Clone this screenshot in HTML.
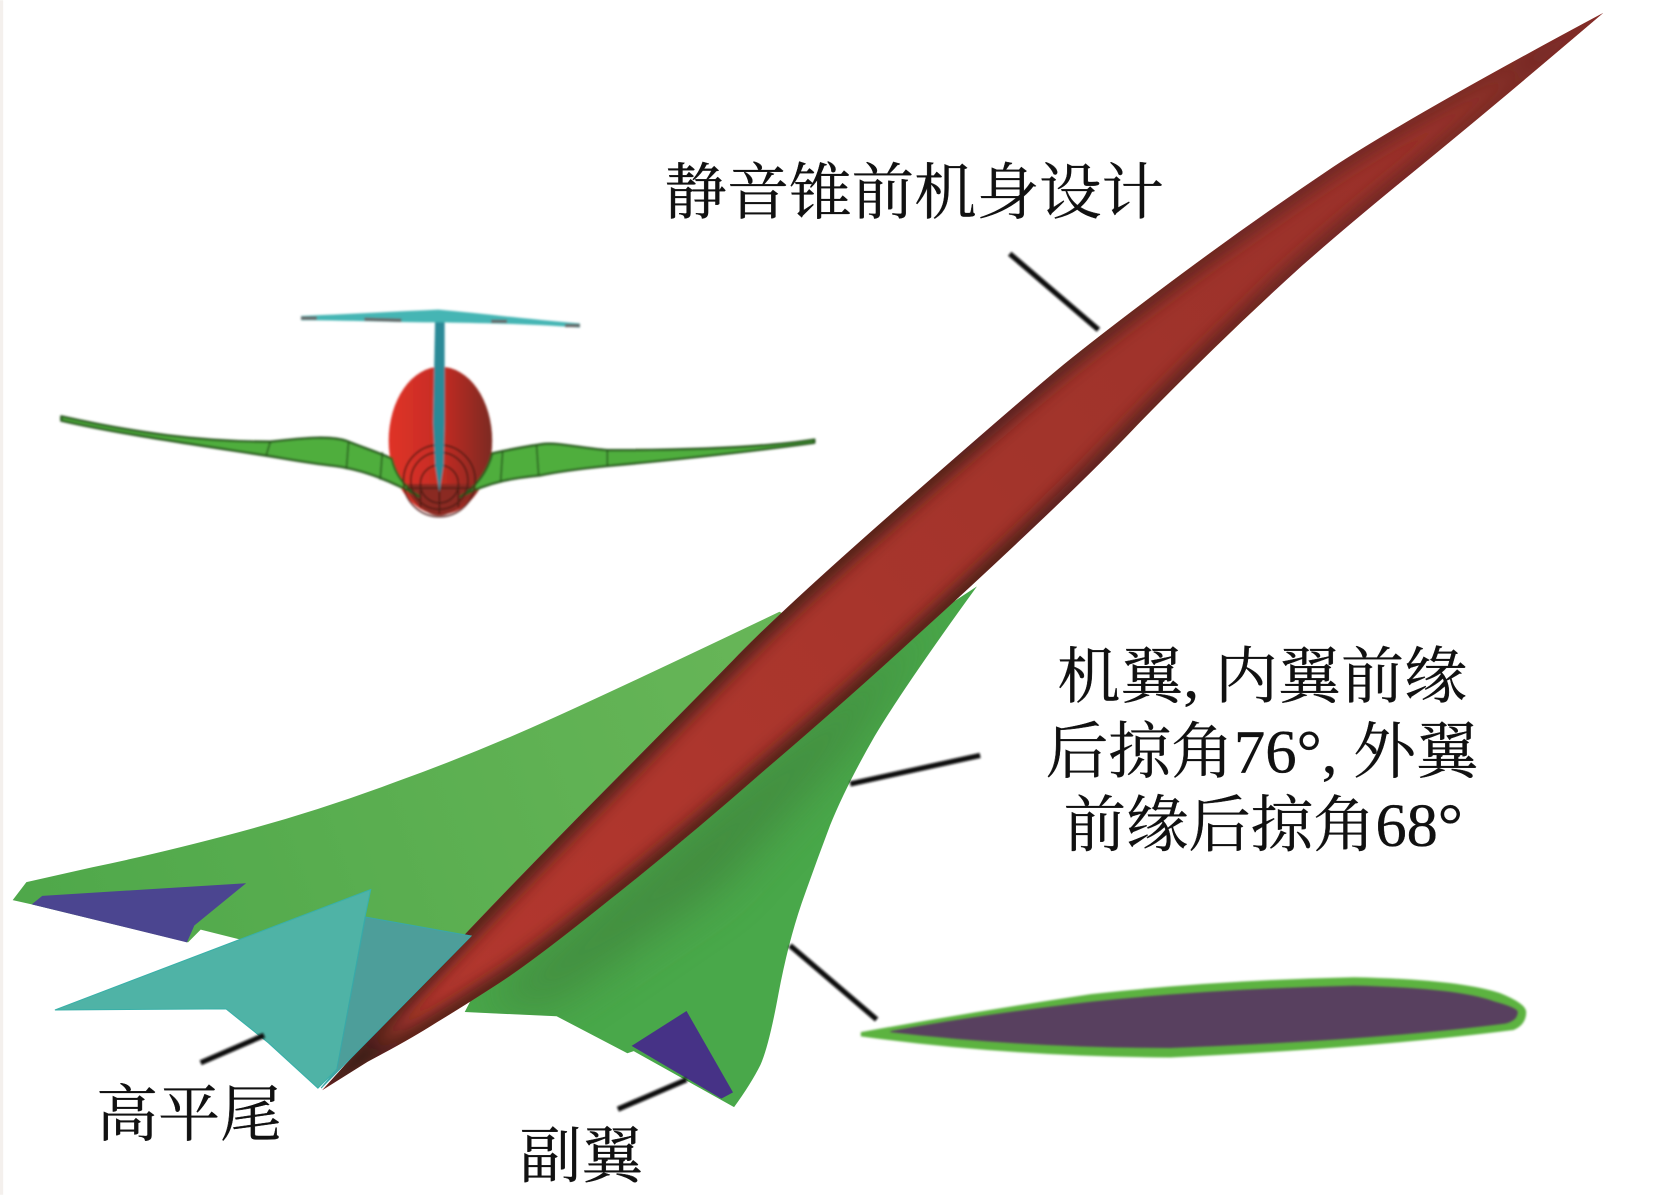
<!DOCTYPE html>
<html lang="zh">
<head>
<meta charset="utf-8">
<title>静音锥前机身设计</title>
<style>
html,body{margin:0;padding:0;background:#fff;width:1654px;height:1195px;overflow:hidden}
svg{display:block}
text{font-family:"Liberation Serif","Noto Serif CJK SC",serif;font-size:58px;fill:#111;stroke:#111;stroke-width:.35}
</style>
</head>
<body>
<svg width="1654" height="1195" viewBox="0 0 1566 1131" xmlns="http://www.w3.org/2000/svg">
<defs>
<filter id="b1" x="-5%" y="-5%" width="110%" height="110%"><feGaussianBlur stdDeviation="1"/></filter>
<filter id="b6" x="-10%" y="-10%" width="120%" height="120%"><feGaussianBlur stdDeviation="8"/></filter>
<filter id="b25" x="-30%" y="-30%" width="160%" height="160%"><feGaussianBlur stdDeviation="22"/></filter>
<linearGradient id="bodyG" gradientUnits="userSpaceOnUse" x1="1518" y1="12" x2="305" y2="1032">
<stop offset="0" stop-color="#96302a"/><stop offset=".45" stop-color="#a3342b"/><stop offset=".7" stop-color="#ad362d"/><stop offset="1" stop-color="#b5372e"/>
</linearGradient>
<linearGradient id="edgeG" gradientUnits="userSpaceOnUse" x1="1518" y1="12" x2="305" y2="1032">
<stop offset="0" stop-color="#7e2c26"/><stop offset=".25" stop-color="#5f2520"/><stop offset=".5" stop-color="#3a1c18"/><stop offset="1" stop-color="#3a1c18"/>
</linearGradient>
<linearGradient id="wingU" gradientUnits="userSpaceOnUse" x1="20" y1="850" x2="700" y2="620">
<stop offset="0" stop-color="#4fa84a"/><stop offset="1" stop-color="#66b557"/>
</linearGradient>
<linearGradient id="front" x1="0" x2="1" y1="0" y2="0">
<stop offset="0" stop-color="#e03227"/><stop offset=".5" stop-color="#c52d24"/><stop offset="1" stop-color="#7c2a20"/>
</linearGradient>
<path id="body" d="M1518 12Q1335 110 1262 158Q1189 207 1119 259Q1049 311 1007 345Q966 379 852 479Q738 579 694 625Q650 670 543 778Q437 886 371 959L305 1032 348 1005Q388 984 413 968Q438 953 472 931Q506 909 578 851Q650 794 725 728Q801 663 862 607Q924 551 983 495Q1042 439 1076 403Q1110 368 1150 329Q1190 290 1232 252Q1274 215 1329 170Q1384 125 1421 94Q1458 63 1518 12Z"/>
<clipPath id="bodyClip"><use href="#body"/></clipPath>
<clipPath id="wing2"><path d="M925 555Q856 650 828 697Q801 744 786 781Q772 818 759 855Q746 893 737 941Q728 990 720 1008Q711 1026 695 1048L600 995 594 997 527 962 440 958 470 900 780 650Z"/></clipPath>
</defs>

<rect x="0" y="0" width="3" height="1131" fill="#f4f0ed"/>

<!-- front view -->
<g filter="url(#b1)">
<ellipse cx="417" cy="417" rx="49" ry="70" fill="url(#front)"/>
<path d="M381 458C392 478 405 488 416 488 428 488 445 474 452 458Z" fill="#8b2a20"/>
<path d="M58 394C130 410 190 418 256 418 290 414 315 412 330 418 345 424 358 428 371 434 374 448 382 460 397 470 365 452 340 444 317 441 290 438 270 434 251 431 180 420 110 410 58 398Z" fill="#4fae3c" stroke="#27591f" stroke-width="2.2" stroke-linejoin="round"/>
<path d="M771 416C720 424 650 426 575 426 550 424 530 419 516 420 500 422 480 426 466 429 462 445 452 460 436 470 465 455 490 452 511 450 530 446 555 443 575 441 650 434 720 426 771 419Z" fill="#4fae3c" stroke="#27591f" stroke-width="2.2" stroke-linejoin="round"/>
<path d="M256 418L252 431M330 418L328 444M362 428L360 454M508 421L510 450M476 426L474 456M575 426L575 441" stroke="#27591f" stroke-width="1.5" fill="none"/>
<g fill="none" stroke="#4a1a14" stroke-width="1.6" opacity=".85">
<circle cx="416" cy="455" r="34"/><circle cx="416" cy="455" r="27"/><circle cx="416" cy="458" r="18"/>
<path d="M385 462H448M416 440V486M398 458V480M434 458V480"/>
</g>
<path d="M412 300L410 400 412 440 416 466 420 440 421 400 421 300Z" fill="#2a8a97"/>
<path d="M285 299C330 297 370 295 415 293 450 296 500 302 549 306L549 310C500 306 460 306 420 305 370 305 330 303 285 303Z" fill="#45b5b4"/>
<path d="M285 301L300 301M345 302L380 303M465 304L480 304M535 308L549 308" stroke="#666" stroke-width="3"/>
</g>

<!-- upper wing -->
<path d="M738 579Q600 645 525 679Q450 713 375 740Q300 768 225 788Q150 808 87 821L25 835 12 852 30 856 178 892 190 880 270 900 440 900 480 900 650 730 780 600Z" fill="url(#wingU)"/>
<!-- lower wing -->
<path d="M925 555Q856 650 828 697Q801 744 786 781Q772 818 759 855Q746 893 737 941Q728 990 720 1008Q711 1026 695 1048L600 995 594 997 527 962 440 958 470 900 780 650Z" fill="#49a84a"/>
<g clip-path="url(#wing2)"><path d="M900 570L600 830 450 955 520 950 680 840 800 710Z" fill="#417f3a" opacity=".7" filter="url(#b25)"/></g>

<!-- ailerons -->
<path d="M233 836L40 848 30 856 177 892 184 876Z" fill="#4b4590"/>
<path d="M650 957L598 990 683 1040 694 1034Z" fill="#463286"/>

<!-- fuselage -->
<use href="#body" fill="url(#bodyG)"/>
<g clip-path="url(#bodyClip)">
<use href="#body" fill="none" stroke="url(#edgeG)" stroke-width="16" filter="url(#b6)"/>
</g>

<!-- tail -->
<path d="M351 842L52 956 214 955 254 987 301 1030 319 1012 346 866Z" fill="#4fb3a6" stroke="#39b0a8" stroke-width="1"/>
<path d="M346 868L446 886 304 1030 319 1012Z" fill="#4d9e9a" stroke="#3aa8a8" stroke-width="1"/>

<!-- airfoil -->
<path d="M815 977Q920 958 1033 941Q1150 928 1282 925Q1380 927 1420 940Q1445 950 1445 958Q1445 970 1433 975Q1300 992 1108 1001Q950 1000 815 981Z" fill="#5cb33f" filter="url(#b1)"/>
<path d="M843 976Q930 960 1035 948Q1150 936 1282 933Q1380 935 1415 948Q1437 954 1437 958Q1437 966 1425 969Q1300 985 1108 992Q970 992 843 977Z" fill="#59405f" filter="url(#b1)"/>

<!-- leader lines -->
<g stroke="#111" stroke-width="5" fill="none" filter="url(#b1)">
<path d="M956 240L1040 312"/>
<path d="M805 742L928 715"/>
<path d="M748 895L830 965"/>
<path d="M190 1006L250 980"/>
<path d="M585 1050L650 1022"/>
</g>

<!-- labels -->
<text x="629" y="202" textLength="473" lengthAdjust="spacingAndGlyphs">静音锥前机身设计</text>
<text x="1001" y="660" textLength="388" lengthAdjust="spacingAndGlyphs">机翼, 内翼前缘</text>
<text x="990" y="731" textLength="410" lengthAdjust="spacingAndGlyphs">后掠角76°, 外翼</text>
<text x="1007" y="801" textLength="378" lengthAdjust="spacingAndGlyphs">前缘后掠角68°</text>
<text x="91" y="1075" textLength="176" lengthAdjust="spacingAndGlyphs">高平尾</text>
<text x="492" y="1114" textLength="117" lengthAdjust="spacingAndGlyphs">副翼</text>
</svg>
</body>
</html>
